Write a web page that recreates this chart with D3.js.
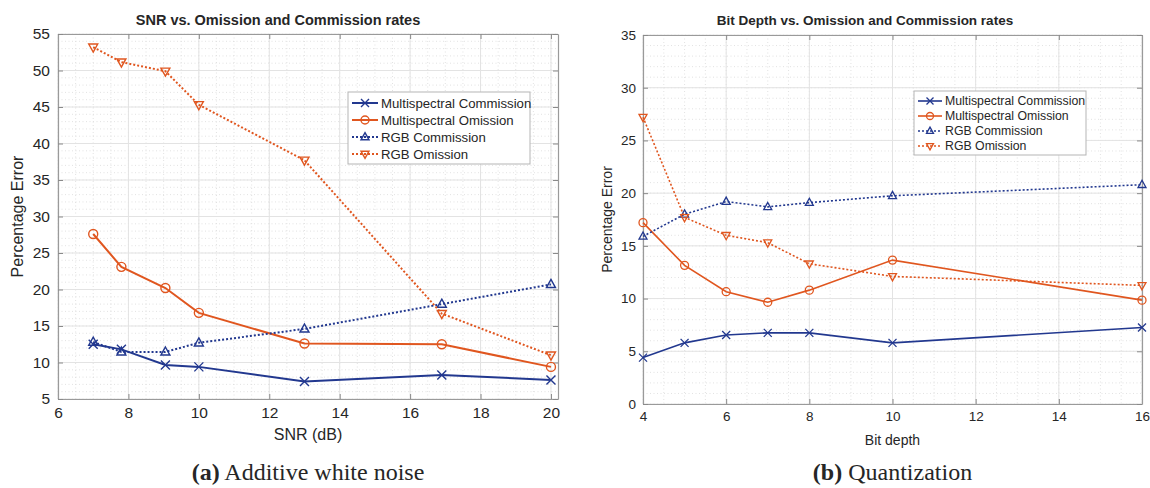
<!DOCTYPE html>
<html>
<head>
<meta charset="utf-8">
<script src="https://cdn.jsdelivr.net/npm/d3@7"></script>
<style>
  body { margin: 0; background: #fff; }
  svg { display: block; }
  text { font-family: "Liberation Sans", Arial, sans-serif; fill: #262626; }
</style>
</head>
<body>
<div id="chart"></div>
<script>
// Datos del panel (a): SNR
const snrX = [7, 7.8, 9.05, 10, 13, 16.9, 20];
const snrMsCommission = [12.5, 11.8, 9.65, 9.4, 7.4, 8.3, 7.6];
const snrMsOmission = [27.6, 23.1, 20.2, 16.8, 12.6, 12.5, 9.4];
const snrRgbCommission = [12.8, 11.45, 11.45, 12.7, 14.6, 18.0, 20.7];
const snrRgbOmission = [53.2, 51.15, 49.9, 45.3, 37.7, 16.7, 11.0];
const snrXTicks = [6, 8, 10, 12, 14, 16, 18, 20];
const snrYTicks = [5, 10, 15, 20, 25, 30, 35, 40, 45, 50, 55];

// Datos del panel (b): profundidad de bits
const bitX = [4, 5, 6, 7, 8, 10, 16];
const bitMsCommission = [4.4, 5.8, 6.55, 6.75, 6.75, 5.8, 7.25];
const bitMsOmission = [17.2, 13.15, 10.65, 9.65, 10.8, 13.65, 9.85];
const bitRgbCommission = [15.9, 18.0, 19.2, 18.7, 19.1, 19.75, 20.8];
const bitRgbOmission = [27.2, 17.7, 16.0, 15.3, 13.3, 12.1, 11.25];
const bitXTicks = [4, 6, 8, 10, 12, 14, 16];
const bitYTicks = [0, 5, 10, 15, 20, 25, 30, 35];

const seriesNames = ['Multispectral Commission', 'Multispectral Omission', 'RGB Commission', 'RGB Omission'];

const blue = '#22388f';
const orange = '#e0561f';

// Estilo de cada serie
const seriesStyle = [
  { color: blue, dash: null, marker: 'x' },
  { color: orange, dash: null, marker: 'o' },
  { color: blue, dash: '2,2', marker: 'up' },
  { color: orange, dash: '2,2', marker: 'down' }
];

const width = 1150;
const height = 488;

const svg = d3.select('#chart')
  .append('svg')
  .attr('width', width)
  .attr('height', height);

svg.append('rect').attr('width', width).attr('height', height).attr('fill', '#fff');

function drawMarker(g, type, x, y, s, color, sw) {
  if (type === 'x') {
    g.append('path')
      .attr('d', `M${x - s},${y - s}L${x + s},${y + s}M${x - s},${y + s}L${x + s},${y - s}`)
      .attr('stroke', color).attr('stroke-width', sw).attr('fill', 'none');
  } else if (type === 'o') {
    g.append('circle').attr('cx', x).attr('cy', y).attr('r', s)
      .attr('stroke', color).attr('stroke-width', sw).attr('fill', 'none');
  } else if (type === 'up') {
    g.append('path')
      .attr('d', `M${x},${y - s * 1.1}L${x + s},${y + s * 0.7}L${x - s},${y + s * 0.7}Z`)
      .attr('stroke', color).attr('stroke-width', sw).attr('fill', 'none');
  } else {
    g.append('path')
      .attr('d', `M${x},${y + s * 1.1}L${x + s},${y - s * 0.7}L${x - s},${y - s * 0.7}Z`)
      .attr('stroke', color).attr('stroke-width', sw).attr('fill', 'none');
  }
}

function drawPanel(p) {
  const g = svg.append('g');
  const x = d3.scaleLinear().domain(p.xDomain).range([p.left, p.right]);
  const y = d3.scaleLinear().domain(p.yDomain).range([p.bottom, p.top]);

  // Rejilla menor punteada
  const minorX = d3.range(p.xDomain[0], p.xDomain[1] + 1e-6, p.minorX);
  const minorY = d3.range(p.yDomain[0], p.yDomain[1] + 1e-6, p.minorY);
  g.append('g').selectAll('line').data(minorX).enter().append('line')
    .attr('x1', d => x(d)).attr('x2', d => x(d)).attr('y1', p.top).attr('y2', p.bottom)
    .attr('stroke', '#dadada').attr('stroke-width', 0.8).attr('stroke-dasharray', '1,2.5');
  g.append('g').selectAll('line').data(minorY).enter().append('line')
    .attr('y1', d => y(d)).attr('y2', d => y(d)).attr('x1', p.left).attr('x2', p.right)
    .attr('stroke', '#dadada').attr('stroke-width', 0.8).attr('stroke-dasharray', '1,2.5');

  // Rejilla mayor
  g.append('g').selectAll('line').data(p.xTicks).enter().append('line')
    .attr('x1', d => x(d)).attr('x2', d => x(d)).attr('y1', p.top).attr('y2', p.bottom)
    .attr('stroke', '#e3e3e3').attr('stroke-width', 1);
  g.append('g').selectAll('line').data(p.yTicks).enter().append('line')
    .attr('y1', d => y(d)).attr('y2', d => y(d)).attr('x1', p.left).attr('x2', p.right)
    .attr('stroke', '#e3e3e3').attr('stroke-width', 1);

  // Ejes con marcas hacia dentro
  const axes = [
    { a: d3.axisBottom(x).tickValues(p.xTicks), t: `translate(0,${p.bottom})`, labels: true },
    { a: d3.axisTop(x).tickValues(p.xTicks), t: `translate(0,${p.top})`, labels: false },
    { a: d3.axisLeft(y).tickValues(p.yTicks), t: `translate(${p.left},0)`, labels: true },
    { a: d3.axisRight(y).tickValues(p.yTicks), t: `translate(${p.right},0)`, labels: false }
  ];
  axes.forEach(ax => {
    const ag = g.append('g').attr('transform', ax.t)
      .call(ax.a.tickSizeInner(-5).tickSizeOuter(0).tickPadding(p.tickPad).tickFormat(d3.format('d')));
    ag.select('.domain').attr('stroke', '#9a9a9a').attr('stroke-width', 1.2);
    ag.selectAll('.tick line').attr('stroke', '#8a8a8a');
    ag.selectAll('.tick text')
      .style('font-family', '"Liberation Sans", Arial, sans-serif')
      .attr('font-size', p.tickFont).attr('fill', '#262626');
    if (!ax.labels) ag.selectAll('.tick text').remove();
  });

  // Series
  const line = d3.line().x(d => x(d[0])).y(d => y(d[1]));
  p.series.forEach((vals, i) => {
    const st = seriesStyle[i];
    const pts = p.xs.map((xv, j) => [xv, vals[j]]);
    g.append('path').datum(pts)
      .attr('d', line)
      .attr('fill', 'none')
      .attr('stroke', st.color)
      .attr('stroke-width', p.lineWidth)
      .attr('stroke-dasharray', st.dash);
    const mg = g.append('g');
    pts.forEach(d => drawMarker(mg, st.marker, x(d[0]), y(d[1]), p.markerSize, st.color, p.markerWidth));
  });

  // Titulo y etiquetas
  g.append('text').attr('x', p.titleX).attr('y', p.titleY)
    .attr('text-anchor', 'middle').attr('font-weight', 'bold').attr('font-size', p.titleFont)
    .attr('fill', '#000').text(p.title);
  g.append('text').attr('x', (p.left + p.right) / 2).attr('y', p.xLabelY)
    .attr('text-anchor', 'middle').attr('font-size', p.labelFont).text(p.xLabel);
  g.append('text')
    .attr('transform', `translate(${p.yLabelX},${(p.top + p.bottom) / 2}) rotate(-90)`)
    .attr('text-anchor', 'middle').attr('font-size', p.labelFont).text('Percentage Error');

  // Leyenda
  const lg = g.append('g').attr('transform', `translate(${p.legend.x},${p.legend.y})`);
  lg.append('rect').attr('width', p.legend.w).attr('height', p.legend.h)
    .attr('fill', '#fff').attr('stroke', '#b5b5b5').attr('stroke-width', 1);
  seriesNames.forEach((name, i) => {
    const st = seriesStyle[i];
    const ry = p.legend.pad + i * p.legend.row;
    lg.append('line').attr('x1', 4).attr('x2', 4 + p.legend.lineLen).attr('y1', ry).attr('y2', ry)
      .attr('stroke', st.color).attr('stroke-width', p.lineWidth).attr('stroke-dasharray', st.dash);
    drawMarker(lg, st.marker, 4 + p.legend.lineLen / 2, ry, p.markerSize - 0.5, st.color, p.markerWidth);
    lg.append('text').attr('x', 7 + p.legend.lineLen).attr('y', ry)
      .attr('dy', '0.36em').attr('font-size', p.legend.font).attr('fill', '#000').text(name);
  });

  // Pie de figura
  const cap = svg.append('text').attr('x', (p.left + p.right) / 2).attr('y', 480)
    .attr('text-anchor', 'middle')
    .style('font-family', '"Liberation Serif", "DejaVu Serif", serif')
    .attr('font-size', 24).attr('fill', '#000');
  cap.append('tspan').attr('font-weight', 'bold').text(p.captionTag);
  cap.append('tspan').text(' ' + p.caption);
}

drawPanel({
  left: 58, right: 558, top: 34, bottom: 399,
  xDomain: [6, 20.2], yDomain: [5, 55],
  xTicks: snrXTicks, yTicks: snrYTicks, minorX: 0.5, minorY: 1,
  xs: snrX, series: [snrMsCommission, snrMsOmission, snrRgbCommission, snrRgbOmission],
  tickFont: 15.5, tickPad: 8, labelFont: 16, titleFont: 14.5,
  lineWidth: 2, markerSize: 4.5, markerWidth: 1.4,
  title: 'SNR vs. Omission and Commission rates', titleX: 278, titleY: 25,
  xLabel: 'SNR (dB)', xLabelY: 440, yLabelX: 23,
  legend: { x: 348, y: 92, w: 182, h: 72, pad: 11, row: 17, lineLen: 26, font: 13.2 },
  captionTag: '(a)', caption: 'Additive white noise'
});

drawPanel({
  left: 643, right: 1142, top: 35, bottom: 404,
  xDomain: [4, 16], yDomain: [0, 35],
  xTicks: bitXTicks, yTicks: bitYTicks, minorX: 0.5, minorY: 1,
  xs: bitX, series: [bitMsCommission, bitMsOmission, bitRgbCommission, bitRgbOmission],
  tickFont: 13.5, tickPad: 7, labelFont: 14, titleFont: 13.5,
  lineWidth: 1.6, markerSize: 4, markerWidth: 1.3,
  title: 'Bit Depth vs. Omission and Commission rates', titleX: 865, titleY: 25,
  xLabel: 'Bit depth', xLabelY: 445, yLabelX: 612,
  legend: { x: 914, y: 91, w: 172, h: 64, pad: 10, row: 15, lineLen: 24, font: 12.3 },
  captionTag: '(b)', caption: 'Quantization'
});
</script>
</body>
</html>
